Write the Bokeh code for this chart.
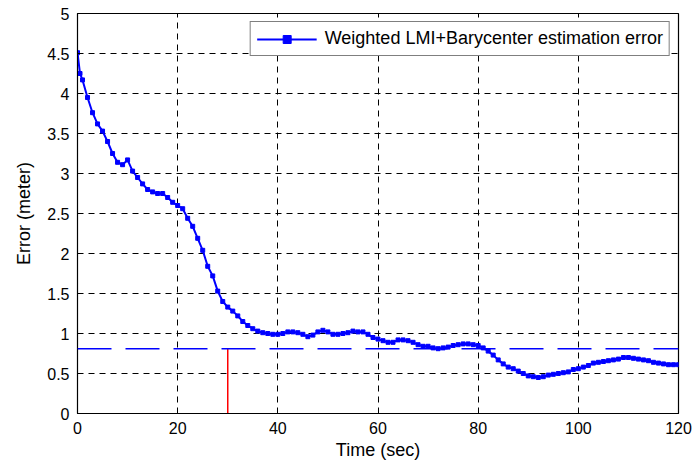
from bokeh.plotting import figure
from bokeh.models import FixedTicker, Span, Range1d, Legend, LegendItem
from bokeh.embed import file_html
from bokeh.resources import INLINE

time = [0, 0.5] + list(range(1, 121))
error = [4.51, 4.25, 4.17, 3.95, 3.76, 3.62, 3.53, 3.40, 3.25, 3.14, 3.11, 3.17,
         3.03, 2.95, 2.87, 2.80, 2.77, 2.75, 2.75, 2.70, 2.64, 2.60,
         2.56, 2.44, 2.34, 2.19, 2.04, 1.84, 1.72, 1.53, 1.40, 1.33,
         1.28, 1.22, 1.15, 1.10, 1.06, 1.03, 1.01, 1.00, 0.99, 0.99,
         1.00, 1.02, 1.02, 1.01, 0.99, 0.96, 0.98, 1.02, 1.04, 1.02,
         0.99, 0.99, 1.00, 1.01, 1.03, 1.02, 1.02, 0.99, 0.95, 0.93,
         0.91, 0.89, 0.89, 0.92, 0.92, 0.91, 0.89, 0.86, 0.84, 0.84,
         0.82, 0.81, 0.82, 0.83, 0.85, 0.86, 0.87, 0.87, 0.86, 0.85,
         0.82, 0.78, 0.73, 0.67, 0.62, 0.58, 0.56, 0.53, 0.50, 0.47,
         0.46, 0.45, 0.46, 0.48, 0.49, 0.50, 0.51, 0.52, 0.55, 0.56,
         0.58, 0.60, 0.63, 0.64, 0.65, 0.66, 0.67, 0.68, 0.70, 0.70,
         0.69, 0.68, 0.67, 0.66, 0.64, 0.63, 0.62, 0.61, 0.61, 0.61]

threshold = 0.81
marker_time = 30
x_ticks = [0, 20, 40, 60, 80, 100, 120]
y_ticks = [0, 0.5, 1, 1.5, 2, 2.5, 3, 3.5, 4, 4.5, 5]
y_labels = ["0", "0.5", "1", "1.5", "2", "2.5", "3", "3.5", "4", "4.5", "5"]
legend_label = "Weighted LMI+Barycenter estimation error"
x_title = "Time (sec)"
y_title = "Error (meter)"

FONT = "Liberation Sans"

p = figure(width=696, height=468, output_backend="svg", toolbar_location=None,
           x_range=Range1d(0, 120), y_range=Range1d(0, 5),
           min_border_left=77, min_border_right=18, min_border_top=13, min_border_bottom=55)
p.background_fill_color = "white"
p.border_fill_color = "white"
p.outline_line_color = "black"
p.outline_line_width = 1.2

for ax in (p.xaxis[0], p.yaxis[0]):
    ax.major_label_text_font = FONT
    ax.major_label_text_font_size = "16px"
    ax.major_label_text_color = "black"
    ax.axis_label_text_font = FONT
    ax.axis_label_text_font_size = "18px"
    ax.axis_label_text_font_style = "normal"
    ax.axis_label_text_color = "black"
    ax.major_tick_in = 5
    ax.major_tick_out = 0
    ax.minor_tick_line_color = None
    ax.axis_line_color = "black"
    ax.major_tick_line_color = "black"

p.xaxis[0].ticker = FixedTicker(ticks=x_ticks)
p.yaxis[0].ticker = FixedTicker(ticks=y_ticks)
p.yaxis[0].major_label_overrides = {t: l for t, l in zip(y_ticks, y_labels)}
p.xaxis[0].axis_label = x_title
p.yaxis[0].axis_label = y_title
p.xaxis[0].major_label_standoff = 8
p.yaxis[0].major_label_standoff = 8
p.xaxis[0].axis_label_standoff = 3
p.yaxis[0].axis_label_standoff = 10

p.xgrid.ticker = FixedTicker(ticks=x_ticks)
p.ygrid.ticker = FixedTicker(ticks=y_ticks)
for g in (p.xgrid[0], p.ygrid[0]):
    g.grid_line_color = "black"
    g.grid_line_dash = "6 5"
    g.grid_line_width = 1

p.add_layout(Span(location=threshold, dimension="width", line_color="#0000ff",
                  line_width=1.5, line_dash="34 14"))
p.segment(x0=[marker_time], y0=[0], x1=[marker_time], y1=[threshold],
          line_color="#ff0000", line_width=1.5)

ln = p.line(time, error, line_color="#0000ff", line_width=2)
sc = p.scatter(time, error, marker="square", size=4, fill_color="#0000ff", line_color="#0000ff")

legend = Legend(items=[LegendItem(label=legend_label, renderers=[ln, sc])],
                location="top_right")
legend.label_text_font = FONT
legend.label_text_font_size = "18px"
legend.label_text_color = "black"
legend.glyph_width = 60
legend.label_standoff = 8
legend.padding = 6
legend.margin = 8
legend.spacing = 0
legend.border_line_color = "black"
legend.border_line_width = 1.2
legend.background_fill_color = "white"
legend.background_fill_alpha = 1
p.add_layout(legend, "center")

open("out.html", "w").write(file_html(p, INLINE))
